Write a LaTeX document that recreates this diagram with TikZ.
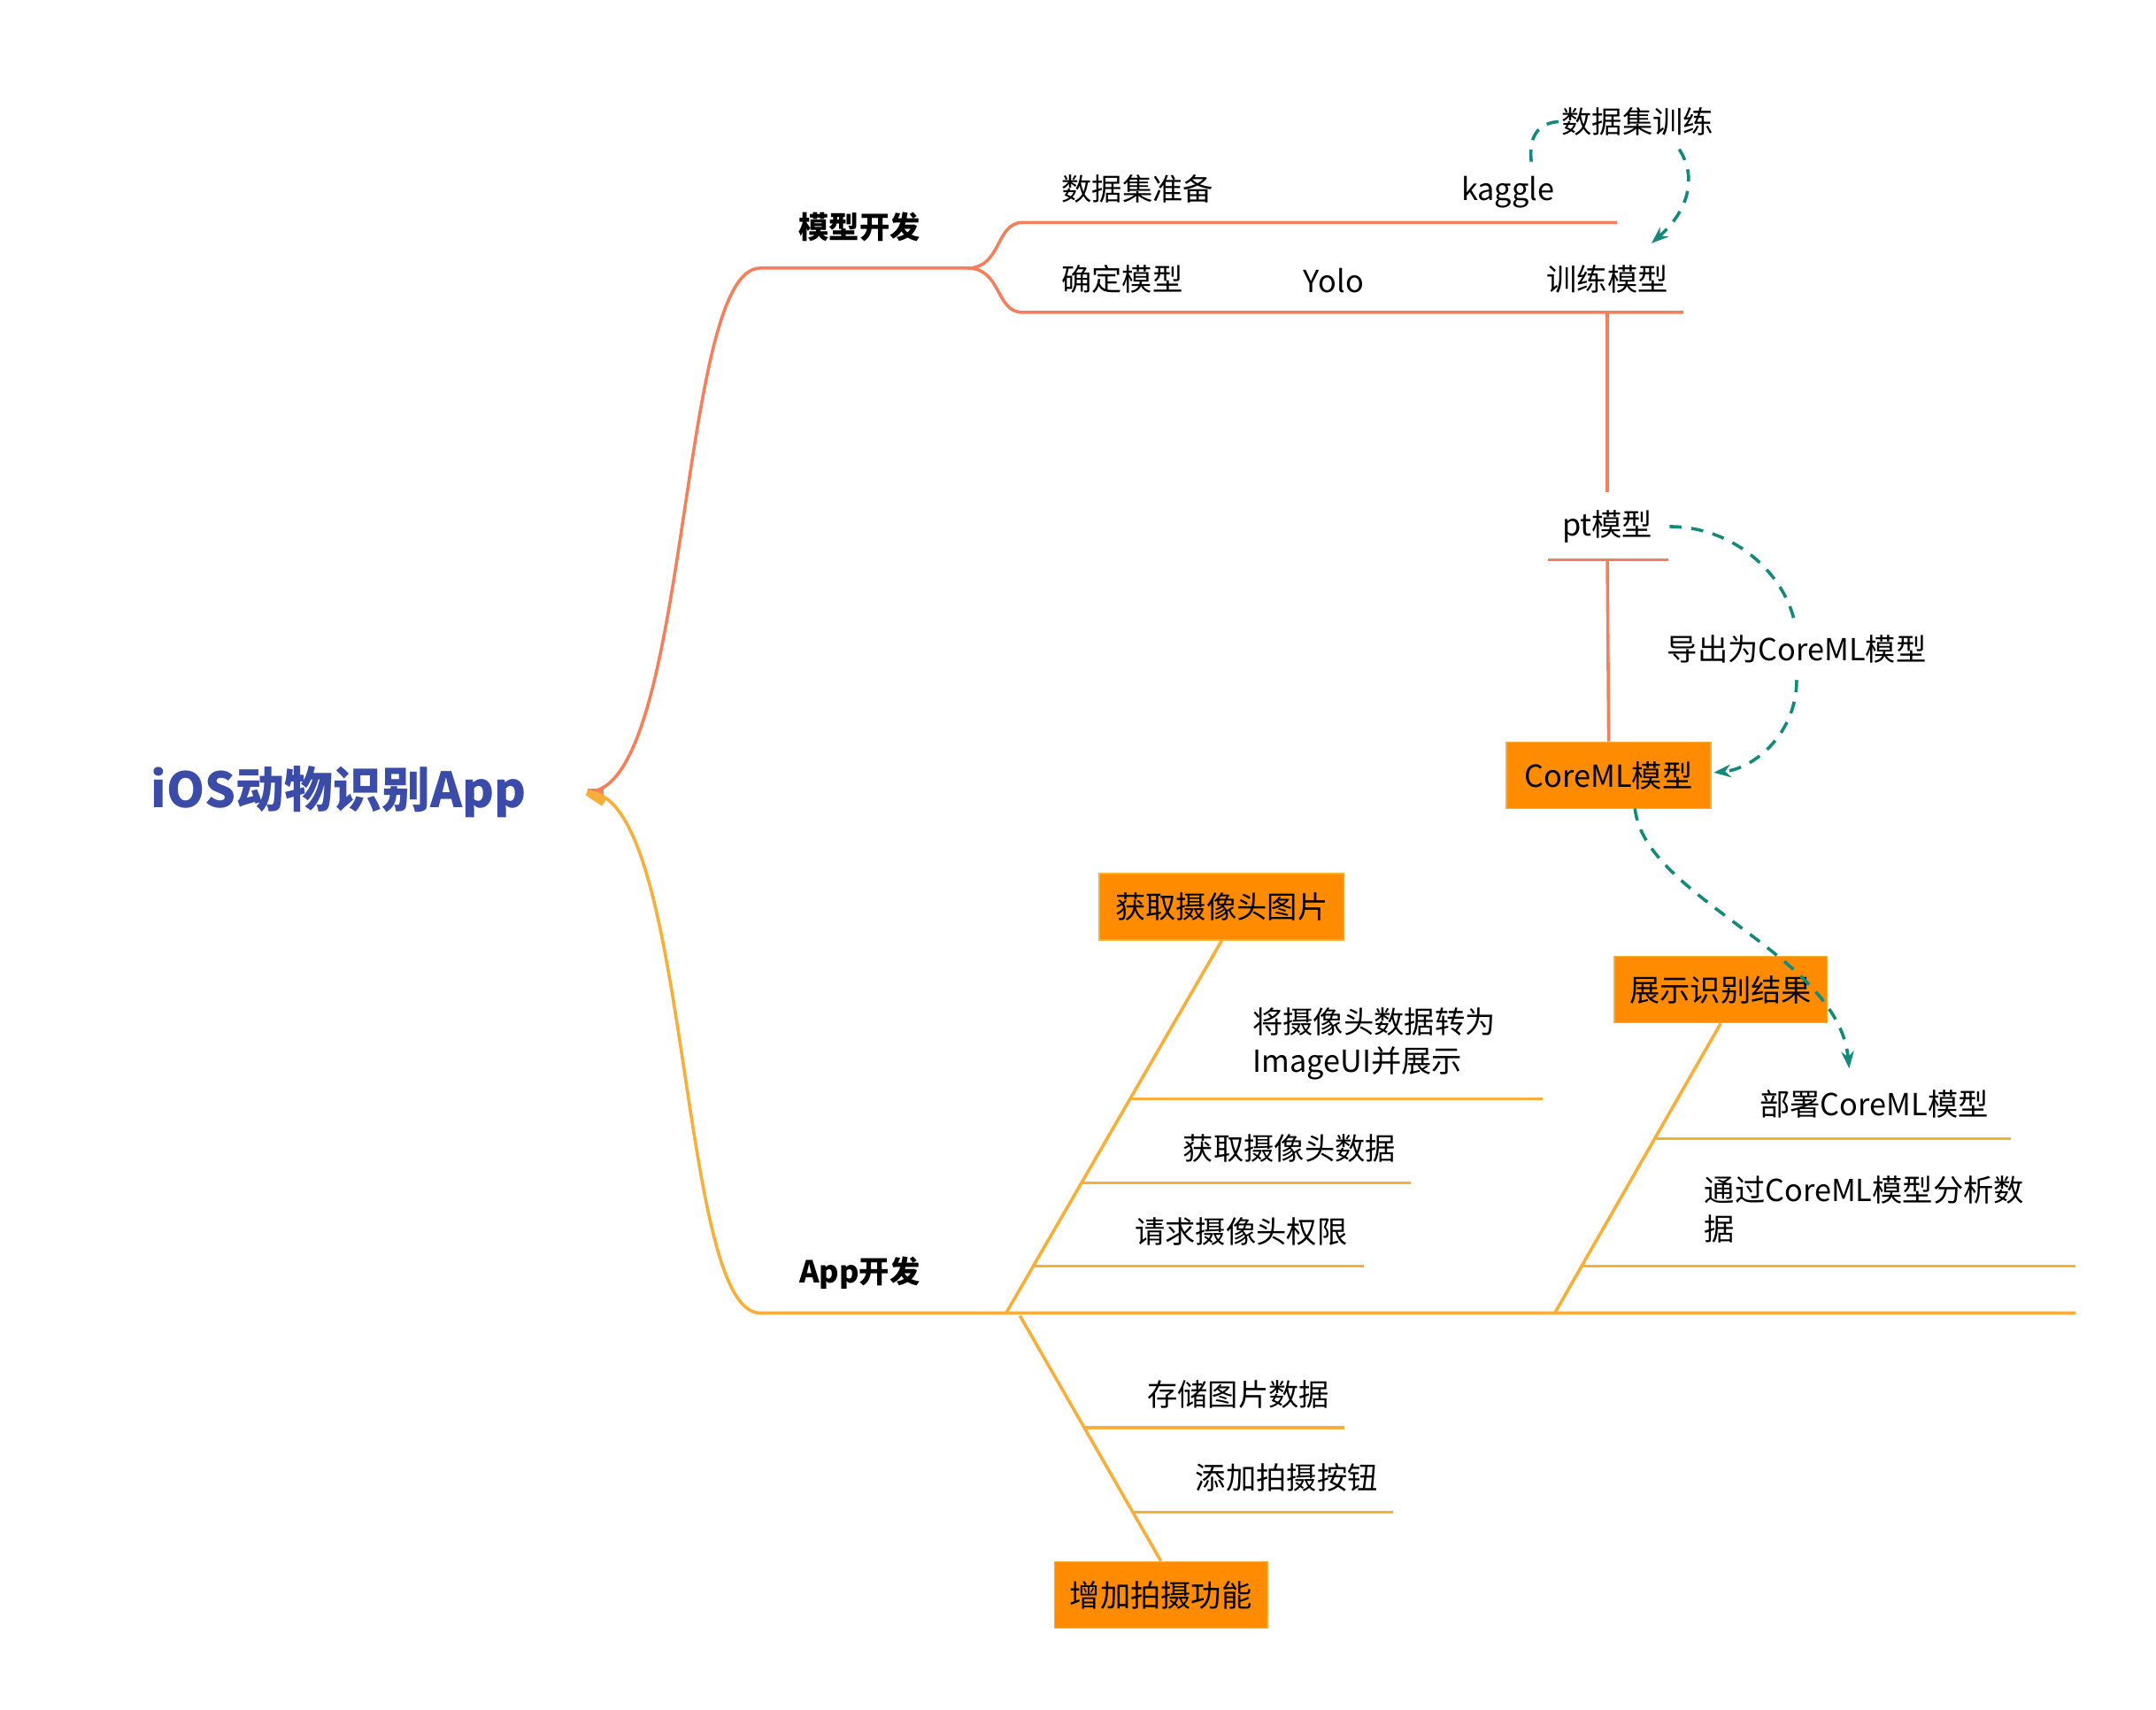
\documentclass[tikz,border=0pt]{standalone}
\usepackage{fontspec}
\setmainfont{Noto Sans CJK SC}
\usetikzlibrary{arrows.meta}
\definecolor{coral}{HTML}{F47F5A}
\definecolor{amber}{HTML}{F9AE3A}
\definecolor{boxor}{HTML}{FF8C00}
\definecolor{teal}{HTML}{13897A}
\definecolor{rootblue}{HTML}{3A4BA8}
\begin{document}
\begin{tikzpicture}[x=0.02cm,y=-0.02cm,
  lbl/.style={font=\fontsize{12.5}{17}\selectfont,text=black,inner sep=0},
  bold/.style={lbl,font=\fontsize{12.5}{17}\selectfont\bfseries},
  box/.style={lbl,fill=boxor,draw=amber,line width=0.6pt,minimum height=0.96cm,inner xsep=5pt},
  cl/.style={coral,line width=1.3pt},
  al/.style={amber,line width=1.3pt},
  tdash/.style={teal,line width=1.3pt,dash pattern=on 5pt off 4pt,-{Stealth[length=7pt]}},
  tdashn/.style={teal,line width=1.3pt,dash pattern=on 5pt off 4pt}]
\useasboundingbox (0,0) rectangle (1560,1237);
\node[lbl,text=rootblue,font=\fontsize{20}{24}\selectfont\bfseries] (root) at (245,573) {iOS动物识别App};
\coordinate (r) at (425,573);
% upper
\coordinate (m0) at (550,194); \coordinate (m1) at (700,194);
\draw[cl] (r) .. controls (500,573) and (490,194) .. (m0) -- (m1);
\draw[coral,line width=3pt] (r) -- +(12,0);
\node[bold] (mx) at (622,164) {模型开发};
\coordinate (a0) at (740,161); \coordinate (a1) at (1170,161);
\coordinate (b0) at (740,226); \coordinate (b1) at (1218,226);
\draw[cl] (m1) .. controls (725,194) and (720,161) .. (a0) -- (a1);
\draw[cl] (m1) .. controls (725,194) and (720,226) .. (b0) -- (b1);
\node[lbl] (sj) at (823,137) {数据集准备};
\node[lbl] (kg) at (1091,139) {kaggle};
\node[lbl] (qd) at (812,202) {确定模型};
\node[lbl] (yl) at (965,203) {Yolo};
\node[lbl] (xl) at (1163,202) {训练模型};
\node[lbl] (sx) at (1185,88) {数据集训练};
\coordinate (t0) at (1163,226); \coordinate (t1) at (1163,356);
\draw[cl] (t0) -- (t1);
\node[lbl] (pt) at (1163,381) {pt模型};
\coordinate (p0) at (1120,405); \coordinate (p1) at (1207,405); \coordinate (p2) at (1163,405);
\draw[cl] (p0) -- (p1);
\node[box,minimum width=2.96cm] (cm) at (1164,561) {CoreML模型};
\draw[cl] (p2) -- (cm.north);
\node[lbl] (dc) at (1300,470) {导出为CoreML模型};
% dashed
\coordinate (d1) at (1108,117); \coordinate (d2) at (1215,108); \coordinate (d3) at (1195,176);
\draw[tdashn] (d1) .. controls (1106,100) and (1112,88) .. (sx.west);
\draw[tdash] (d2) .. controls (1228,128) and (1222,152) .. (d3);
\coordinate (e1) at (1208,381); \coordinate (e2) at (1298,448); \coordinate (e3) at (1300,492); \coordinate (e4) at (1240,559);
\draw[tdashn] (e1) .. controls (1255,381) and (1290,415) .. (e2);
\draw[tdash] (e3) .. controls (1300,530) and (1270,556) .. (e4);
% lower
\coordinate (n0) at (550,950); \coordinate (n1) at (1502,950);
\draw[al] (r) .. controls (500,573) and (490,950) .. (n0) -- (n1);
\draw[amber,line width=3pt] (r) -- +(12,8);
\node[bold] (ax) at (622,921) {App开发};
% left upper fishbone
\node[box,minimum width=3.54cm] (hq) at (884,656) {获取摄像头图片};
\coordinate (f0) at (728,950);
\draw[al] (f0) -- (hq.south);
\coordinate (l1a) at (818,795); \coordinate (l1b) at (1116,795);
\coordinate (l2a) at (783,856); \coordinate (l2b) at (1021,856);
\coordinate (l3a) at (748,916); \coordinate (l3b) at (987,916);
\draw[al] (l1a) -- (l1b); \draw[al] (l2a) -- (l2b); \draw[al] (l3a) -- (l3b);
\node[lbl,align=left,anchor=west,font=\fontsize{12.5}{16}\selectfont] (jz) at (906,755) {将摄像头数据转为\\ImageUI并展示};
\node[lbl] (hs) at (933,831) {获取摄像头数据};
\node[lbl] (qq) at (898,891) {请求摄像头权限};
% left lower
\node[box,minimum width=3.08cm] (zj) at (840,1154) {增加拍摄功能};
\coordinate (g0) at (738,952);
\draw[al] (g0) -- (zj.north);
\coordinate (k1a) at (785,1033); \coordinate (k1b) at (973,1033);
\coordinate (k2a) at (820,1094); \coordinate (k2b) at (1008,1094);
\draw[al] (k1a) -- (k1b); \draw[al] (k2a) -- (k2b);
\node[lbl] (cc) at (896,1009) {存储图片数据};
\node[lbl] (tj) at (931,1069) {添加拍摄按钮};
% right
\node[box,minimum width=3.08cm] (zs) at (1245,716) {展示识别结果};
\coordinate (h0) at (1125,950);
\draw[al] (h0) -- (zs.south);
\coordinate (q1a) at (1198,824); \coordinate (q1b) at (1455,824);
\coordinate (q2a) at (1144,916); \coordinate (q2b) at (1502,916);
\draw[al] (q1a) -- (q1b); \draw[al] (q2a) -- (q2b);
\node[lbl] (bs) at (1356,799) {部署CoreML模型};
\node[lbl,align=left,anchor=west,font=\fontsize{12.5}{16}\selectfont] (tg) at (1233,875) {通过CoreML模型分析数\\据};
\coordinate (x1) at (1183,585); \coordinate (x2) at (1338,773);
\draw[tdash] (x1) .. controls (1190,650) and (1330,690) .. (x2);
\end{tikzpicture}
\end{document}
